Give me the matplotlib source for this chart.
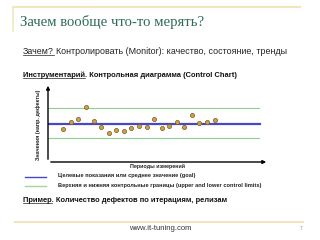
import matplotlib.pyplot as plt

# control chart data (value above x-axis, arbitrary units)
periods = list(range(1, 22))
values = [33, 40, 43, 55, 41, 35, 29, 32, 31, 34, 36, 35, 43, 34, 36, 40, 35, 47, 39, 40, 42]
goal = 38
upper_limit = 54
lower_limit = 24

fig = plt.figure(figsize=(3.2, 2.4), dpi=100)
fig.patch.set_facecolor('white')

# slide decoration
fig.add_artist(plt.Line2D([13/320, 300/320], [1-7/240, 1-7/240], color='#f3e6bf', lw=1.5))
fig.add_artist(plt.Line2D([13/320, 13/320], [1-7/240, 1-31/240], color='#f3e6bf', lw=1.2))
fig.add_artist(plt.Line2D([15/320, 303/320], [1-222/240, 1-222/240], color='#f3e6bf', lw=1.5))

fig.text(20/320, 1-22/240, "Зачем вообще что-то мерять?", family='Liberation Serif',
         fontsize=10.6, color='#2e6b57', va='center')

t1 = fig.text(23/320, 1-51/240, "Зачем?", family='Liberation Sans', fontsize=6.4,
              va='center', color='#222222')

t2 = fig.text(23/320, 1-75/240, "Инструментарий. Контрольная диаграмма (Control Chart)",
              family='Liberation Sans', fontsize=5.4, fontweight='bold', va='center', color='#111111')

ax = fig.add_axes([48/320, 1-162/240, 221/320, 79/240])
ax.axhline(upper_limit, xmin=0, xmax=0.955, color='#8fcf8f', lw=0.8)
ax.axhline(lower_limit, xmin=0, xmax=0.955, color='#8fcf8f', lw=0.8)
ax.axhline(goal, xmin=0, xmax=0.96, color='#4747c8', lw=1.6)
ax.scatter(periods, values, s=9, color='#c9a24a', edgecolor='#7a5a1a', linewidth=0.5, zorder=3)
ax.set_xlim(-1.03, 28.2)
ax.set_ylim(0, 79)
for s in ax.spines.values():
    s.set_visible(False)
ax.set_xticks([])
ax.set_yticks([])
ax.patch.set_alpha(0)
ax.annotate('', xy=(1, 0), xytext=(0, 0), xycoords='axes fraction',
            arrowprops=dict(arrowstyle='-|>', color='black', lw=1, mutation_scale=5))
ax.annotate('', xy=(0, 1), xytext=(0, 0), xycoords='axes fraction',
            arrowprops=dict(arrowstyle='-|>', color='black', lw=1, mutation_scale=5))

fig.text(38/320, 1-125/240, "Значения (напр. дефекты)", family='Liberation Sans',
         fontsize=3.9, fontweight='bold', rotation=90, ha='center', va='center', color='#222222')
fig.text(158/320, 1-166/240, "Периоды измерений", family='Liberation Sans',
         fontsize=3.9, fontweight='bold', ha='center', va='center', color='#222222')

fig.add_artist(plt.Line2D([25/320, 46/320], [1-177/240, 1-177/240], color='#4747c8', lw=1))
fig.add_artist(plt.Line2D([25/320, 46/320], [1-186/240, 1-186/240], color='#9fd79f', lw=1))
fig.text(58/320, 1-176/240, "Целевые показания или среднее значение (goal)",
         family='Liberation Sans', fontsize=4.05, fontweight='bold', va='center', color='#222222')
fig.text(58/320, 1-186/240, "Верхняя и нижняя контрольные границы (upper and lower control limits)",
         family='Liberation Sans', fontsize=4.05, fontweight='bold', va='center', color='#222222')

t3 = fig.text(23/320, 1-200/240, "Пример. Количество дефектов по итерациям, релизам",
              family='Liberation Sans', fontsize=5.4, fontweight='bold', va='center', color='#111111')

fig.text(160/320, 1-229/240, "www.it-tuning.com", family='Liberation Sans',
         fontsize=5.5, ha='center', va='center', color='#333333')
fig.text(301/320, 1-229/240, "7", family='Liberation Sans',
         fontsize=3.5, ha='center', va='center', color='#888888')

# rest of the first line goes right after "Зачем?", then underlines
fig.canvas.draw()
r = fig.canvas.get_renderer()
bb1 = t1.get_window_extent(r)
fig.text((bb1.x1 + 2) / 320, 1-51/240, "Контролировать (Monitor): качество, состояние, тренды",
         family='Liberation Sans', fontsize=6.4, va='center', color='#222222')

for txt, word in [(t1, "Зачем?"), (t2, "Инструментарий"), (t3, "Пример")]:
    bb = txt.get_window_extent(r)
    tmp = fig.text(0, 0, word, family='Liberation Sans', fontsize=txt.get_fontsize(),
                   fontweight=txt.get_fontweight())
    w = tmp.get_window_extent(r).width
    tmp.remove()
    y = bb.y0 + 0.8
    fig.add_artist(plt.Line2D([bb.x0 / 320, (bb.x0 + w) / 320], [y / 240, y / 240],
                              color='#222222', lw=0.5))

fig.savefig('out.png', dpi=100)
